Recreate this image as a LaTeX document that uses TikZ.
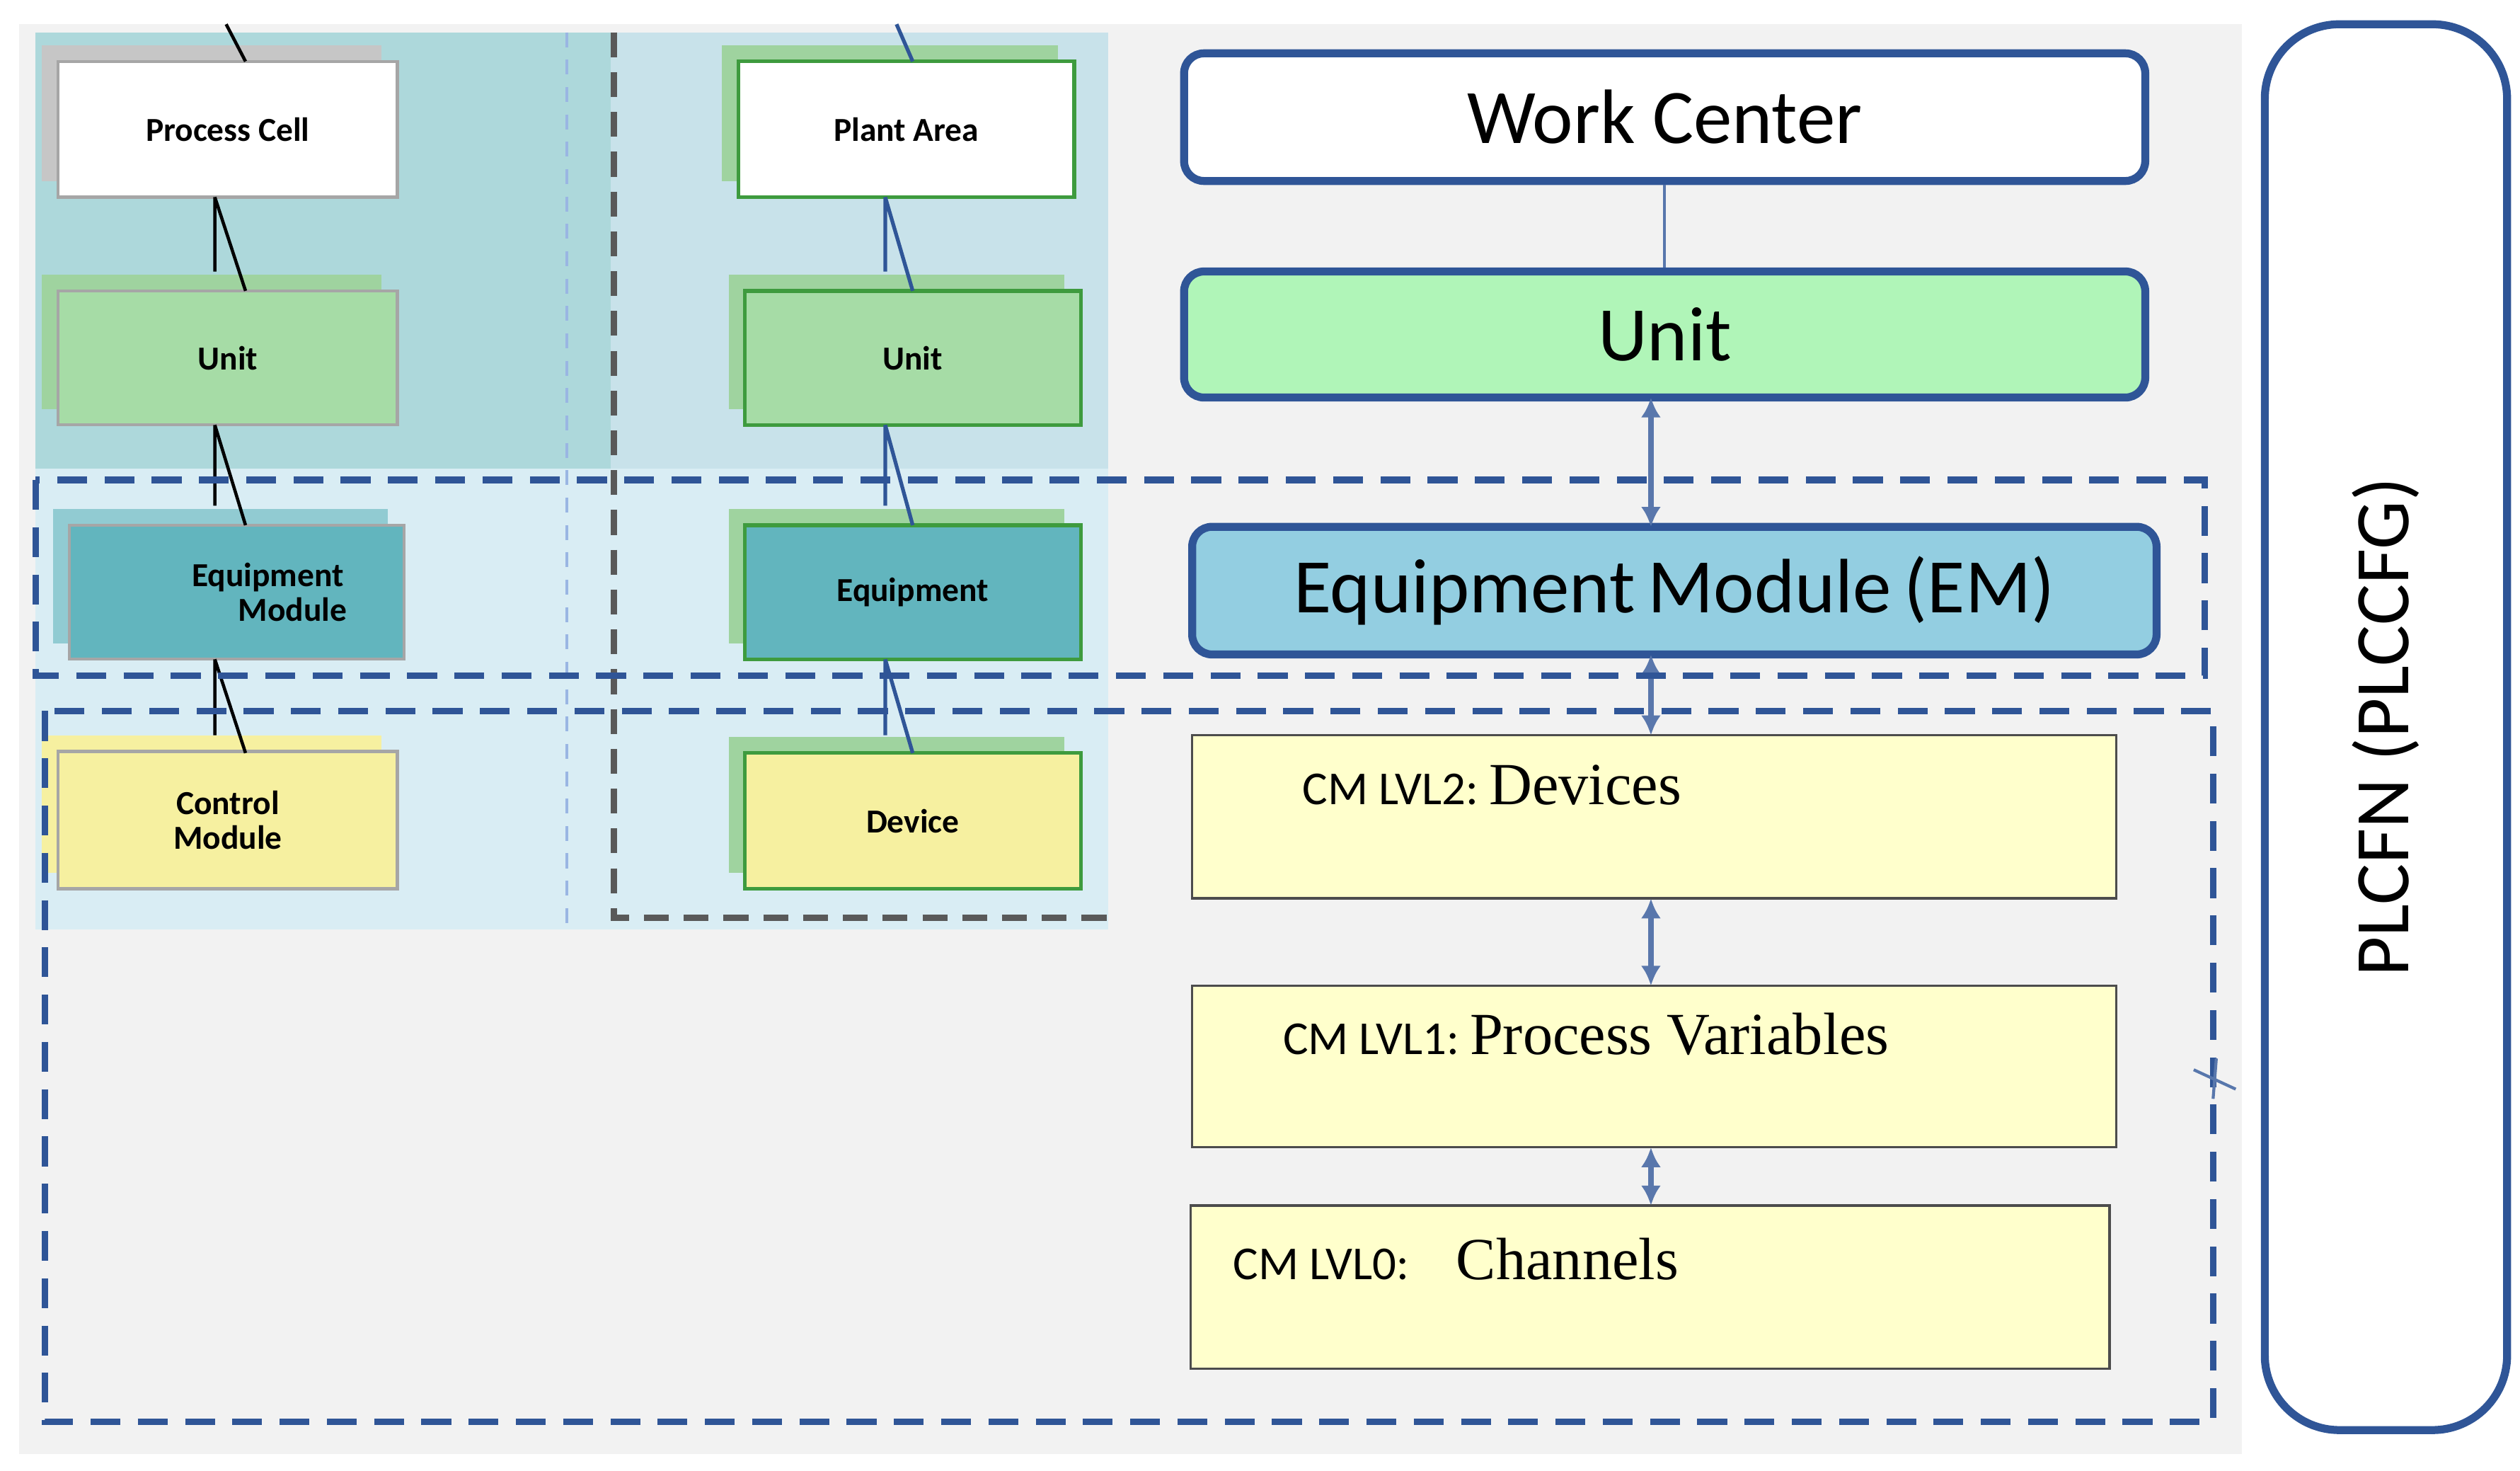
\documentclass[tikz,border=0pt]{standalone}
\usepackage{fontspec}
\setmainfont{Carlito}
\newfontfamily\serifx{Liberation Serif}
\usetikzlibrary{arrows.meta}
\definecolor{dblue}{HTML}{2F5597}
\definecolor{bgg}{HTML}{F2F2F2}
\definecolor{tealbg}{HTML}{ADD8DB}
\definecolor{lbbg}{HTML}{C8E2EA}
\definecolor{lowbg}{HTML}{D9EDF4}
\definecolor{gfill}{HTML}{A6DCA6}
\definecolor{tfill}{HTML}{62B5BE}
\definecolor{yfill}{HTML}{F6F0A0}
\definecolor{gbord}{HTML}{3E9B3E}
\definecolor{shg}{HTML}{9FD39F}
\definecolor{cmy}{HTML}{FFFFCC}
\definecolor{emb}{HTML}{93CEE1}
\definecolor{ung}{HTML}{B0F5B8}
\begin{document}
\begin{tikzpicture}[x=0.02283cm,y=-0.02283cm,
 sbox/.style={draw=gray!70,line width=1.2pt,font=\bfseries\fontsize{13.5}{14}\selectfont,align=center,inner sep=0},
 gbox/.style={draw=gbord,line width=1.5pt,font=\bfseries\fontsize{13.5}{14}\selectfont,align=center,inner sep=0},
 big/.style={draw=dblue,line width=3.2pt,rounded corners=8pt,font=\fontsize{31}{34}\selectfont},
 cmbox/.style={draw=black!70,line width=1pt,fill=cmy},
 dar/.style={draw=dblue!80,line width=2.5pt,{Latex[length=8pt,width=8pt]}-{Latex[length=8pt,width=8pt]}},
 bdash/.style={draw=dblue,line width=2.6pt,dash pattern=on 12pt off 7pt},
 conn/.style={line width=1.3pt,black}]
\useasboundingbox (0,0) rectangle (1560,910);
\fill[white] (0,0) rectangle (1560,910);
\fill[bgg] (12,15) rectangle (1388,900);
\fill[tealbg] (22,20) rectangle (378,290);
\fill[lbbg] (378,20) rectangle (686,290);
\fill[lowbg] (22,290) rectangle (686,575);
\draw[cyan!50!blue!40,line width=1pt,dash pattern=on 6pt off 5pt] (351,20) -- (351,575);
\draw[gray!70!black,line width=2.4pt,dash pattern=on 10pt off 6pt] (380,20) -- (380,568) -- (686,568);
% shadows
\fill[gray!45] (26,28) rectangle (236,112);
\fill[shg] (26,170) rectangle (236,253);
\fill[tfill!70] (33,315) rectangle (240,398);
\fill[yfill] (26,455) rectangle (236,540);
\fill[shg] (447,28) rectangle (655,112);
\fill[shg] (451,170) rectangle (659,253);
\fill[shg] (451,315) rectangle (659,398);
\fill[shg] (451,456) rectangle (659,540);
% left boxes
\node[sbox,fill=white,minimum width=210*0.02283cm,minimum height=84*0.02283cm] (pc) at (141,80) {Process Cell};
\node[sbox,fill=gfill,minimum width=210*0.02283cm,minimum height=83*0.02283cm] (u1) at (141,221.5) {Unit};
\node[sbox,fill=tfill,minimum width=207*0.02283cm,minimum height=83*0.02283cm] (em1) at (146.5,366.5) {\hspace*{25pt}Equipment\\\hspace*{45pt}Module};
\node[sbox,fill=yfill,minimum width=210*0.02283cm,minimum height=85*0.02283cm] (cm1) at (141,507.5) {Control\\Module};
% right column
\node[gbox,fill=white,minimum width=208*0.02283cm,minimum height=84*0.02283cm] (pa) at (561,80) {Plant Area};
\node[gbox,fill=gfill,minimum width=208*0.02283cm,minimum height=83*0.02283cm] (u2) at (565,221.5) {Unit};
\node[gbox,fill=tfill,minimum width=208*0.02283cm,minimum height=83*0.02283cm] (eq) at (565,366.5) {Equipment};
\node[gbox,fill=yfill,minimum width=208*0.02283cm,minimum height=84*0.02283cm] (dv) at (565,508) {Device};
% connectors
\coordinate (t1) at (140,15); \coordinate (t2) at (555,15);
\draw[conn] (t1) -- (152,38);
\draw[conn] (133,122) -- (133,168) (133,122) -- (152,180);
\draw[conn] (133,263) -- (133,313) (133,263) -- (152,325);
\draw[conn] (133,408) -- (133,455) (133,408) -- (152,466);
\draw[dblue,line width=1.5pt] (t2) -- (565,38);
\draw[dblue,line width=1.5pt] (548,122) -- (548,168) (548,122) -- (565,180);
\draw[dblue,line width=1.5pt] (548,263) -- (548,313) (548,263) -- (565,325);
\draw[dblue,line width=1.5pt] (548,408) -- (548,455) (548,408) -- (565,466);
% right panel
\node[big,fill=white,minimum width=595*0.02283cm,minimum height=79*0.02283cm] (wc) at (1030.5,72.5) {Work Center};
\node[big,fill=ung,minimum width=595*0.02283cm,minimum height=78*0.02283cm] (un) at (1030.5,207) {Unit};
\node[big,fill=emb,minimum width=597*0.02283cm,minimum height=79*0.02283cm] (em) at (1036.5,365.5) {Equipment\,Module\,(EM)};
\draw[dblue!80,line width=1.2pt] (wc.south) -- (un.north);
\node[cmbox,minimum width=572*0.02283cm,minimum height=101*0.02283cm] (d2) at (1024,505.5) {};
\node[cmbox,minimum width=572*0.02283cm,minimum height=100*0.02283cm] (d1) at (1024,660) {};
\node[cmbox,minimum width=569*0.02283cm,minimum height=101*0.02283cm] (d0) at (1021.5,796.5) {};
\node[anchor=west,inner sep=0] (l2) at (806,486) {\fontsize{19}{22}\selectfont CM LVL2:\ \serifx\fontsize{24}{26}\selectfont Devices};
\node[anchor=west,inner sep=0] (l1) at (794,640) {\fontsize{19}{22}\selectfont CM LVL1:\ \serifx\fontsize{24}{26}\selectfont Process Variables};
\node[anchor=west,inner sep=0] (l0) at (763,779) {\fontsize{19}{22}\selectfont CM LVL0:\quad\serifx\fontsize{24}{26}\selectfont Channels};
\draw[dar] (1022,246) -- (1022,326);
\draw[dar] (1022,405) -- (1022,455);
\draw[dar] (1022,556) -- (1022,610);
\draw[dar] (1022,710) -- (1022,746);
\draw[bdash] (22,297) rectangle (1365,418);
\draw[bdash] (28,440) rectangle (1370,880);
\draw[dblue!80,line width=1.2pt] (1358,662) -- (1384,674) (1372,655) -- (1370,680);
\node[draw=dblue,line width=3.2pt,rounded corners=30pt,minimum width=150*0.02283cm,minimum height=870*0.02283cm] (pl) at (1477,450) {};
\node[rotate=90,font=\fontsize{31}{34}\selectfont] at (pl.center) {PLCFN (PLCCFG)};
\end{tikzpicture}
\end{document}
